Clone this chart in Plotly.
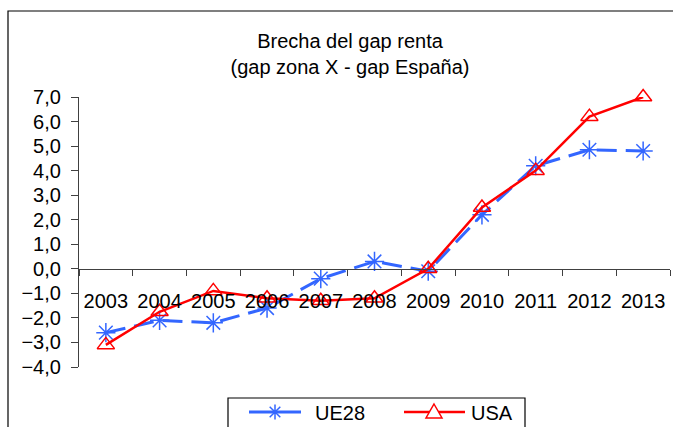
import plotly.graph_objects as go

years = ["2003", "2004", "2005", "2006", "2007", "2008", "2009", "2010", "2011", "2012", "2013"]
ue28 = [-2.6, -2.1, -2.2, -1.6, -0.4, 0.3, -0.1, 2.2, 4.2, 4.85, 4.8]
usa = [-3.1, -1.75, -0.9, -1.2, -1.3, -1.2, 0.0, 2.5, 4.0, 6.2, 7.0]
y_range = [-4, 7]
series_names = ["UE28", "USA"]

BLUE, RED = "#3366FF", "#FF0000"
W, H = 673, 427
ML, MR, MT, MB = 79, 3, 97, 60
pw, ph = W - ML - MR, H - MT - MB


def px(x):
    return (x - ML) / pw


def py(y):
    return (H - MB - y) / ph


fig = go.Figure()
fig.add_trace(go.Scatter(
    x=years, y=ue28, name=series_names[0], mode="lines+markers", cliponaxis=False,
    line=dict(color=BLUE, width=3, dash="20px,9px"),
    marker=dict(symbol="asterisk-open", size=16, line=dict(color=BLUE, width=1.5)),
))
fig.add_trace(go.Scatter(
    x=years, y=usa, name=series_names[1], mode="lines+markers", cliponaxis=False,
    line=dict(color=RED, width=2.5),
    marker=dict(symbol="triangle-up-open", size=15, color=RED,
                line=dict(color=RED, width=1.5)),
))

fam = "Liberation Sans, Arial, sans-serif"
font = dict(family=fam, size=20, color="#000000")
zero_pos = (0 - y_range[0]) / (y_range[1] - y_range[0])

shapes = [
    dict(type="rect", xref="paper", yref="paper",
         x0=px(8), x1=px(690), y0=py(440), y1=py(11),
         line=dict(color="#000", width=1.2), fillcolor="rgba(0,0,0,0)", layer="below"),
    dict(type="rect", xref="paper", yref="paper",
         x0=px(228), x1=px(525), y0=py(440), y1=py(398),
         line=dict(color="#000", width=1.2), fillcolor="white", layer="above"),
    dict(type="line", xref="paper", yref="paper",
         x0=px(249), x1=px(301), y0=py(412), y1=py(412),
         line=dict(color=BLUE, width=3)),
    dict(type="line", xref="paper", yref="paper",
         x0=px(404), x1=px(465), y0=py(412), y1=py(412),
         line=dict(color=RED, width=2.5)),
]
cx, cy, r = 275, 412, 7.5
d = r * 0.7071
star = (f"M{px(cx)},{py(cy - r)} L{px(cx)},{py(cy + r)} "
        f"M{px(cx - d)},{py(cy - d)} L{px(cx + d)},{py(cy + d)} "
        f"M{px(cx - d)},{py(cy + d)} L{px(cx + d)},{py(cy - d)}")
shapes.append(dict(type="path", xref="paper", yref="paper", path=star,
                   line=dict(color=BLUE, width=1.5)))
tx, ty = 434, 412
tri = (f"M{px(tx)},{py(ty - 8)} L{px(tx + 8)},{py(ty + 6)} "
       f"L{px(tx - 8)},{py(ty + 6)} Z")
shapes.append(dict(type="path", xref="paper", yref="paper", path=tri,
                   line=dict(color=RED, width=1.5), fillcolor="white"))

annotations = [
    dict(text=series_names[0], xref="paper", yref="paper", x=px(313), y=py(413),
         xanchor="left", yanchor="middle", showarrow=False, font=font),
    dict(text=series_names[1], xref="paper", yref="paper", x=px(469), y=py(413),
         xanchor="left", yanchor="middle", showarrow=False, font=font),
]

fig.update_layout(
    width=W, height=H,
    margin=dict(l=ML, r=MR, t=MT, b=MB, autoexpand=False),
    paper_bgcolor="white", plot_bgcolor="white",
    font=font,
    separators=", ",
    showlegend=False,
    title=dict(text="Brecha del gap renta<br>(gap zona X - gap España)",
               x=350 / W, xref="container", xanchor="center",
               y=1 - 48 / H, yref="container", yanchor="top",
               font=dict(size=20, family=fam, color="#000")),
    xaxis=dict(type="category", anchor="free", position=zero_pos,
               showline=True, linecolor="#404040", linewidth=1.2,
               ticks="outside", ticklen=6, tickcolor="#404040", tickwidth=1.2,
               tickson="boundaries", showgrid=False, zeroline=False,
               ticklabelstandoff=14, range=[-0.5, 10.5]),
    yaxis=dict(range=y_range, dtick=1, tickformat=".1f",
               showline=True, linecolor="#404040", linewidth=1.2,
               ticks="outside", ticklen=7, tickcolor="#404040", tickwidth=1.2,
               showgrid=False, zeroline=False, ticklabelstandoff=6),
    shapes=shapes,
    annotations=annotations,
)

fig.write_html("out.html", config={"displayModeBar": False})
with open("out.html", encoding="utf-8") as f:
    html = f.read()
html = html.replace("<head>", "<head><style>html,body{margin:0;padding:0;overflow:hidden;}</style>", 1)
with open("out.html", "w", encoding="utf-8") as f:
    f.write(html)
